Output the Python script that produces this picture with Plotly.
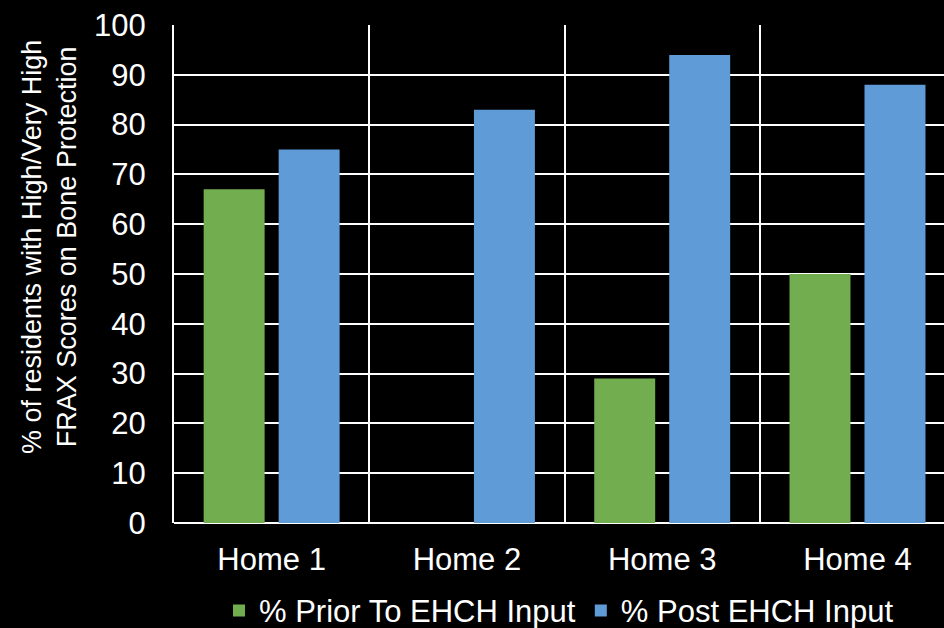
import plotly.graph_objects as go

categories = ["Home 1", "Home 2", "Home 3", "Home 4"]
prior_values = [67, 0, 29, 50]
post_values = [75, 83, 94, 88]
series_names = ["% Prior To EHCH Input", "% Post EHCH Input"]
y_title_lines = ["% of residents with High/Very High", "FRAX Scores on Bone Protection"]

FONT = "Liberation Sans, Arial, sans-serif"

fig = go.Figure()
fig.add_trace(go.Bar(x=categories, y=prior_values, name=series_names[0],
                     marker=dict(color="#72ad4f", line=dict(width=0))))
fig.add_trace(go.Bar(x=categories, y=post_values, name=series_names[1],
                     marker=dict(color="#5f9bd6", line=dict(width=0))))

fig.update_layout(
    width=944, height=628,
    paper_bgcolor="black", plot_bgcolor="black",
    margin=dict(l=174, r=0, t=25, b=105, autoexpand=False),
    barmode="group", bargap=0.232, bargroupgap=0.187,
    font=dict(family=FONT, color="white", size=31),
    showlegend=True,
    legend=dict(orientation="h", x=0.5, xanchor="center", y=-0.122, yanchor="top",
                font=dict(size=31, color="white"), bgcolor="rgba(0,0,0,0)",
                itemwidth=30, tracegroupgap=0),
    xaxis=dict(range=[-0.5, 3.443], tickson="boundaries", showgrid=True,
               gridcolor="white", gridwidth=2, ticks="", showline=False,
               tickfont=dict(size=31, color="white"), ticklabelstandoff=15,
               zeroline=False),
    yaxis=dict(range=[0, 100], dtick=10, showgrid=True, gridcolor="white",
               gridwidth=2, showline=True, linecolor="white", linewidth=2,
               zeroline=True, zerolinecolor="white", zerolinewidth=2,
               ticks="", tickfont=dict(size=31, color="white"),
               ticklabelstandoff=20),
    annotations=[dict(text="<br>".join(y_title_lines), xref="paper", yref="paper",
                      x=(49 - 174) / 770, y=(523 - 247) / 498, xanchor="center",
                      yanchor="middle", textangle=-90, showarrow=False,
                      font=dict(size=27, color="white", family=FONT))],
)

fig.write_html("out.html")
